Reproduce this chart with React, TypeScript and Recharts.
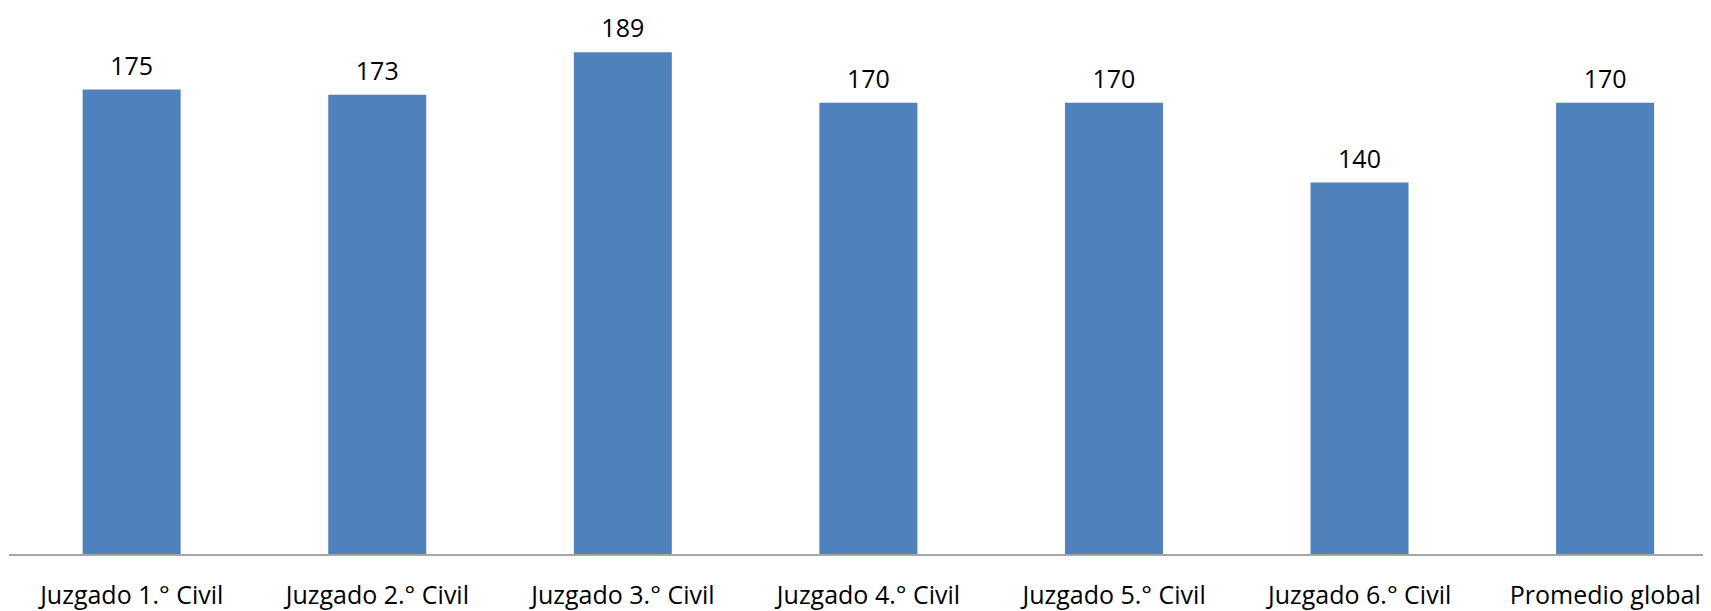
import React from "react";
import { BarChart, Bar, XAxis, YAxis, LabelList } from "recharts";

const categories = [
  "Juzgado 1.° Civil",
  "Juzgado 2.° Civil",
  "Juzgado 3.° Civil",
  "Juzgado 4.° Civil",
  "Juzgado 5.° Civil",
  "Juzgado 6.° Civil",
  "Promedio global",
];
const values = [175, 173, 189, 170, 170, 140, 170];

const data = categories.map((name, i) => ({ name, value: values[i] }));

const FONT = "'Open Sans', sans-serif";

export default function App() {
  return (
    <div style={{ width: 1703, height: 603, overflow: "hidden" }}>
      <BarChart
        width={1720}
        height={603}
        data={data}
        margin={{ top: 15, right: 0, left: 1, bottom: 26 }}
        barCategoryGap="30%"
      >
        <XAxis
          dataKey="name"
          axisLine={{ stroke: "#a6a6a6", strokeWidth: 2 }}
          tickLine={false}
          interval={0}
          tickMargin={25}
          tick={{ fill: "#000", fontSize: 25, fontFamily: FONT }}
        />
        <YAxis hide domain={[0, 200]} />
        <Bar dataKey="value" fill="#4f81bd" isAnimationActive={false}>
          <LabelList
            dataKey="value"
            position="top"
            offset={15}
            fill="#000"
            fontSize={25}
            fontFamily={FONT}
          />
        </Bar>
      </BarChart>
    </div>
  );
}
